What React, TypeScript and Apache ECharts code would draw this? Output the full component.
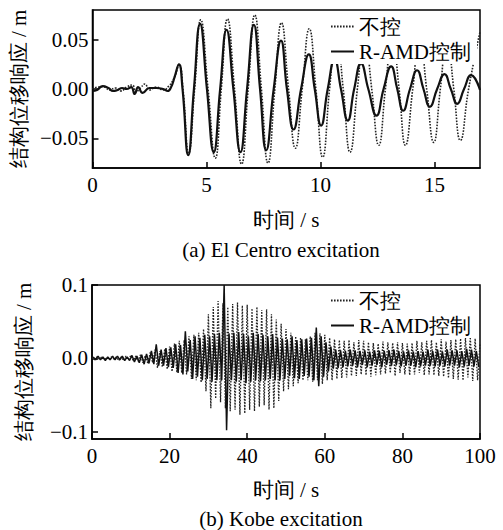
import React, { useEffect, useRef } from "react";
import * as echarts from "echarts";

const FONT = "Liberation Serif";

// El Centro excitation (0–17 s)
const ELC_UNC_T = [0, 0.25, 0.5, 0.75, 1.0, 1.25, 1.5, 1.75, 1.9, 2.1, 2.3, 2.5, 2.8, 3.1, 3.35, 3.6, 3.8, 3.97, 4.22, 4.48, 4.75, 5.07, 5.39, 5.65, 5.92, 6.23, 6.54, 6.83, 7.12, 7.41, 7.7, 8.0, 8.29, 8.6, 8.9, 9.2, 9.51, 9.8, 10.1, 10.4, 10.7, 11.0, 11.3, 11.62, 11.93, 12.25, 12.56, 12.85, 13.15, 13.45, 13.73, 14.05, 14.35, 14.66, 14.97, 15.26, 15.55, 15.85, 16.14, 16.5, 17.0];
const ELC_UNC_V = [0.0, 0.002, 0.002, -0.001, 0.001, -0.002, 0.002, 0.004, -0.003, 0.001, 0.005, -0.001, 0.002, -0.001, 0.003, 0.012, 0.025, 0.0, -0.065, 0.0, 0.070, 0.0, -0.070, 0.0, 0.071, 0.0, -0.076, 0.0, 0.075, 0.0, -0.075, 0.0, 0.067, 0.0, -0.060, 0.0, 0.061, 0.0, -0.069, 0.0, 0.060, 0.0, -0.064, 0.0, 0.058, 0.0, -0.057, 0.0, 0.056, 0.0, -0.057, 0.0, 0.055, 0.0, -0.054, 0.0, 0.054, 0.0, -0.052, 0.0, 0.058];
const ELC_CTL_T = [0, 0.2, 0.45, 0.7, 0.9, 1.1, 1.3, 1.5, 1.7, 1.85, 2.0, 2.2, 2.5, 2.8, 3.1, 3.3, 3.45, 3.6, 3.79, 3.95, 4.2, 4.45, 4.72, 5.02, 5.32, 5.6, 5.88, 6.18, 6.49, 6.78, 7.08, 7.35, 7.62, 7.95, 8.27, 8.53, 8.82, 9.15, 9.49, 9.75, 10.03, 10.32, 10.62, 10.9, 11.2, 11.48, 11.78, 12.1, 12.46, 12.77, 13.1, 13.37, 13.63, 13.93, 14.24, 14.52, 14.8, 15.12, 15.44, 15.72, 16.0, 16.3, 16.61, 17.0];
const ELC_CTL_V = [-0.002, -0.001, 0.003, 0.001, -0.002, -0.001, 0.001, 0.0, 0.002, -0.005, 0.002, -0.004, 0.001, 0.001, 0.0, -0.002, 0.002, 0.012, 0.025, 0.0, -0.067, 0.0, 0.066, 0.0, -0.064, 0.0, 0.060, 0.0, -0.064, 0.0, 0.065, 0.0, -0.062, 0.0, 0.049, 0.0, -0.041, 0.0, 0.035, 0.0, -0.037, 0.0, 0.030, 0.0, -0.032, 0.0, 0.026, 0.0, -0.027, 0.0, 0.023, 0.0, -0.022, 0.0, 0.019, 0.0, -0.018, 0.0, 0.015, 0.0, -0.015, 0.0, 0.014, -0.001];

// Kobe excitation (0–100 s), sampled extremes
const KOBE_UNC_V = [
  0.001, -0.002, 0.002, -0.001, 0.002, -0.002, 0.001, -0.002, 0.002, -0.001,
  0.002, -0.003, 0.002, -0.003, 0.003, -0.002, 0.004, -0.003, 0.003, -0.004,
  0.005, -0.006, 0.004, -0.007, 0.008, -0.006, 0.012, -0.013, 0.01, -0.012,
  0.013, -0.015, 0.016, -0.018, 0.02, -0.019, 0.024, -0.02, 0.025, -0.022,
  0.03, -0.028, 0.032, -0.03, 0.035, -0.033, 0.04, -0.045, 0.06, -0.068,
  0.07, -0.055, 0.078, -0.06, 0.075, -0.068, 0.07, -0.072, 0.074, -0.07,
  0.076, -0.077, 0.072, -0.075, 0.073, -0.07, 0.068, -0.072, 0.07, -0.066,
  0.066, -0.064, 0.067, -0.07, 0.06, -0.068, 0.053, -0.058, 0.047, -0.045,
  0.04, -0.042, 0.035, -0.038, 0.03, -0.034, 0.028, -0.03, 0.026, -0.03,
  0.03, -0.032, 0.035, -0.03, 0.034, -0.035, 0.032, -0.03, 0.028, -0.03,
  0.026, -0.028, 0.025, -0.027, 0.024, -0.026, 0.025, -0.024, 0.022, -0.024,
  0.025, -0.022, 0.024, -0.023, 0.022, -0.025, 0.021, -0.023, 0.02, -0.022,
  0.023, -0.021, 0.022, -0.02, 0.021, -0.024, 0.022, -0.02, 0.021, -0.022,
  0.02, -0.023, 0.021, -0.022, 0.024, -0.02, 0.022, -0.023, 0.024, -0.022,
  0.025, -0.023, 0.022, -0.024, 0.026, -0.025, 0.023, -0.027, 0.025, -0.028,
  0.026, -0.029, 0.027, -0.03, 0.028, -0.026, 0.029, -0.031, 0.027, -0.03,
  0.02,
];
const KOBE_CTL_V = [
  0.002, -0.002, 0.003, -0.002, 0.002, -0.003, 0.002, -0.002, 0.003, -0.002,
  0.003, -0.002, 0.003, -0.003, 0.002, -0.003, 0.004, -0.005, 0.003, -0.006,
  0.005, -0.008, 0.006, -0.007, 0.01, -0.008, 0.019, -0.01, 0.012, -0.01,
  0.014, -0.012, 0.015, -0.013, 0.019, -0.02, 0.018, -0.022, 0.037, -0.018,
  0.025, -0.028, 0.03, -0.025, 0.028, -0.03, 0.032, -0.028, 0.03, -0.032,
  0.033, -0.03, 0.035, -0.03, 0.1, -0.098, 0.034, -0.03, 0.035, -0.032,
  0.036, -0.03, 0.033, -0.034, 0.03, -0.032, 0.035, -0.03, 0.033, -0.031,
  0.032, -0.03, 0.03, -0.028, 0.033, -0.03, 0.028, -0.03, 0.027, -0.028,
  0.026, -0.024, 0.03, -0.027, 0.025, -0.028, 0.026, -0.024, 0.027, -0.025,
  0.028, -0.03, 0.042, -0.038, 0.03, -0.025, 0.022, -0.018, 0.016, -0.014,
  0.012, -0.013, 0.011, -0.012, 0.01, -0.011, 0.012, -0.01, 0.011, -0.012,
  0.01, -0.009, 0.011, -0.012, 0.009, -0.01, 0.011, -0.009, 0.01, -0.012,
  0.01, -0.009, 0.011, -0.01, 0.012, -0.009, 0.01, -0.011, 0.009, -0.01,
  0.011, -0.01, 0.009, -0.012, 0.01, -0.011, 0.009, -0.01, 0.012, -0.01,
  0.01, -0.011, 0.012, -0.01, 0.009, -0.011, 0.012, -0.01, 0.011, -0.01,
  0.011, -0.012, 0.01, -0.011, 0.013, -0.01, 0.012, -0.011, 0.01, -0.012,
];
const KOBE_DT = 0.625;
const KOBE_CTL_OFFSET = 0.31;

const LEGEND_NAMES = ["不控", "R-AMD控制"];
const Y_NAME = "结构位移响应 / m";
const X_NAME = "时间 / s";
const CAPTIONS = ["(a) El Centro excitation", "(b) Kobe excitation"];
const TOP_Y_TICKS = [-0.05, 0, 0.05];
const BOT_Y_TICKS = [-0.1, 0, 0.1];

const fmt = (d: number) => (v: number) =>
  (v < -1e-9 ? "\u2212" : "") + Math.abs(v).toFixed(d);

export default function App() {
  const ref = useRef<HTMLDivElement>(null);
  useEffect(() => {
    if (!ref.current) return;
    const chart = echarts.init(ref.current, null, { renderer: "svg" });
    const black = "#000";
    const txt = { fontFamily: FONT, fontSize: 21, color: "#000" };
    const axisCommon = {
      axisLine: { show: true, onZero: false, lineStyle: { color: black, width: 1.5 } },
      axisTick: { show: true, inside: true, length: 6, lineStyle: { color: black, width: 1.5 } },
      splitLine: { show: false },
      nameTextStyle: txt,
    };
    const elcUnc = ELC_UNC_T.map((t, i) => [t, ELC_UNC_V[i]]);
    const elcCtl = ELC_CTL_T.map((t, i) => [t, ELC_CTL_V[i]]);
    const kobeUnc = KOBE_UNC_V.map((v, i) => [i * KOBE_DT, v]);
    const kobeCtl = KOBE_CTL_V.map((v, i) => [KOBE_CTL_OFFSET + i * KOBE_DT, v]);
    const legendCommon = {
      orient: "vertical",
      itemWidth: 23,
      itemHeight: 14,
      itemGap: 4,
      itemTextGap: 2,
      backgroundColor: "#fff",
      padding: [2, 6, 2, 2],
      textStyle: txt,
      itemStyle: { opacity: 0 },
      data: LEGEND_NAMES,
      selectedMode: false,
    };
    const dotted = { color: "#222", width: 1.6, type: [1.6, 1.4] as any };
    chart.setOption({
      animation: false,
      backgroundColor: "#fff",
      textStyle: { fontFamily: FONT },
      grid: [
        { left: 92, top: 10, width: 388, height: 158, show: true, borderColor: black, borderWidth: 1.5 },
        { left: 92, top: 285, width: 388, height: 154, show: true, borderColor: black, borderWidth: 1.5 },
      ],
      xAxis: [
        {
          ...axisCommon, type: "value", gridIndex: 0, min: 0, max: 17, interval: 5,
          name: X_NAME, nameLocation: "middle", nameGap: 41,
          axisLabel: { ...txt, margin: 6, showMaxLabel: false },
        },
        {
          ...axisCommon, type: "value", gridIndex: 1, min: 0, max: 100, interval: 20,
          name: X_NAME, nameLocation: "middle", nameGap: 40,
          axisLabel: { ...txt, margin: 6 },
        },
      ],
      yAxis: [
        {
          ...axisCommon, type: "value", gridIndex: 0, min: -0.08, max: 0.08,
          name: Y_NAME, nameLocation: "middle", nameRotate: 90, nameGap: 58,
          axisTick: { ...axisCommon.axisTick, customValues: TOP_Y_TICKS },
          axisLabel: { ...txt, margin: 4, customValues: TOP_Y_TICKS, formatter: fmt(2) },
        },
        {
          ...axisCommon, type: "value", gridIndex: 1, min: -0.11, max: 0.1,
          name: Y_NAME, nameLocation: "middle", nameRotate: 90, nameGap: 58,
          axisTick: { ...axisCommon.axisTick, customValues: BOT_Y_TICKS },
          axisLabel: { ...txt, margin: 4, customValues: BOT_Y_TICKS, formatter: fmt(1) },
        },
      ],
      legend: [
        { ...legendCommon, left: 328, top: 14 },
        { ...legendCommon, left: 328, top: 288 },
      ],
      graphic: [
        { type: "text", x: 281, y: 250, style: { text: CAPTIONS[0], fontFamily: FONT, fontSize: 21, fill: "#000", align: "center", verticalAlign: "middle" } },
        { type: "text", x: 281, y: 519, style: { text: CAPTIONS[1], fontFamily: FONT, fontSize: 21, fill: "#000", align: "center", verticalAlign: "middle" } },
      ],
      series: [
        { name: LEGEND_NAMES[0], type: "line", xAxisIndex: 0, yAxisIndex: 0, data: elcUnc, smooth: 0.5, showSymbol: false, symbol: "none", lineStyle: dotted, itemStyle: { color: "#222" }, z: 1 },
        { name: LEGEND_NAMES[1], type: "line", xAxisIndex: 0, yAxisIndex: 0, data: elcCtl, smooth: 0.5, showSymbol: false, symbol: "none", lineStyle: { color: "#111", width: 2.2 }, itemStyle: { color: "#111" }, z: 2 },
        { name: LEGEND_NAMES[0], type: "line", xAxisIndex: 1, yAxisIndex: 1, data: kobeUnc, showSymbol: false, symbol: "none", lineStyle: { ...dotted, width: 1.3 }, itemStyle: { color: "#222" }, z: 1 },
        { name: LEGEND_NAMES[1], type: "line", xAxisIndex: 1, yAxisIndex: 1, data: kobeCtl, showSymbol: false, symbol: "none", lineStyle: { color: "#111", width: 1.5 }, itemStyle: { color: "#111" }, z: 2 },
      ],
    });
    return () => chart.dispose();
  }, []);
  return (
    <div
      ref={ref}
      style={{ position: "fixed", left: 0, top: 0, width: 503, height: 530, background: "#fff" }}
    />
  );
}
